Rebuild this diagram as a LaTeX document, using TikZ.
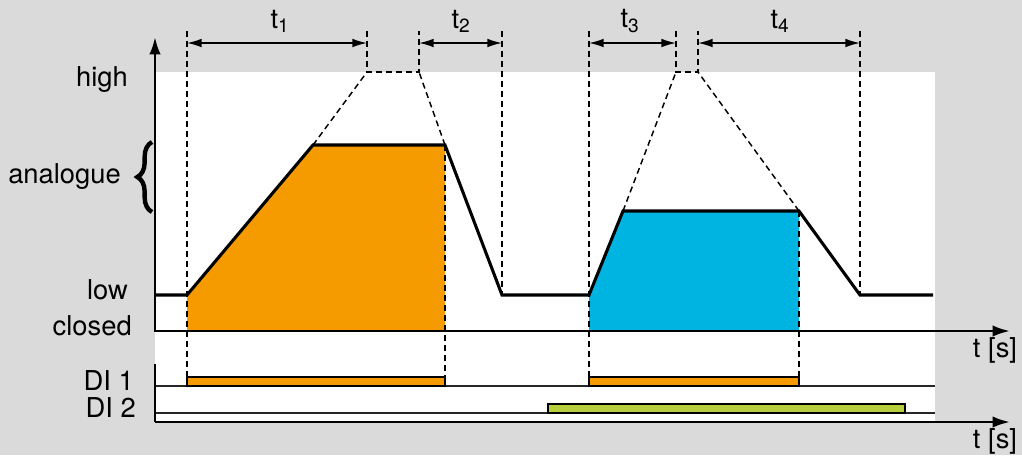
\documentclass[tikz,border=0pt]{standalone}
\usepackage{fontspec}
\setmainfont{TeX Gyre Heros}
\usetikzlibrary{arrows.meta,decorations.pathreplacing}
\definecolor{bggray}{RGB}{218,218,218}
\definecolor{orangefill}{RGB}{245,155,0}
\definecolor{bluefill}{RGB}{0,180,226}
\definecolor{greenfill}{RGB}{185,206,60}
\tikzset{
  lbl/.style={font=\fontsize{20.5}{23}\selectfont, inner sep=0pt},
  axis/.style={line width=1.9pt, -{Latex[length=13pt,width=8.5pt]}},
  signal/.style={line width=2.3pt, line join=miter},
  guide/.style={line width=1.1pt, dash pattern=on 4.5pt off 3pt},
  dimline/.style={line width=1.1pt, {Latex[length=11pt,width=6.5pt]}-{Latex[length=11pt,width=6.5pt]}},
  dibar/.style={draw=black, line width=1.5pt},
  thinline/.style={line width=0.9pt, draw=black!85}
}
\begin{document}
\begin{tikzpicture}[x=0.75pt,y=-0.75pt]
\fill[bggray] (0,0) rectangle (1022,455);
\useasboundingbox (0,0) rectangle (1022,455);
\fill[white] (155,72) rectangle (935,421);

% fills
\fill[orangefill] (187,331) -- (187,295) -- (313,145) -- (445,145) -- (445,331) -- cycle;
\fill[bluefill] (589,331) -- (589,295) -- (623,211) -- (799,211) -- (799,331) -- cycle;

% coordinates
\coordinate (o) at (155,331);
\coordinate (ytip) at (155,37);
\coordinate (xtip) at (1010,331);
\coordinate (o2) at (155,364);
\coordinate (o2c) at (155,422);
\coordinate (xtip2) at (1010,422);

\coordinate (a1) at (187,43);  \coordinate (a2) at (367,43);
\coordinate (a3) at (419,43);  \coordinate (a4) at (502,43);
\coordinate (a5) at (589,43);  \coordinate (a6) at (676,43);
\coordinate (a7) at (698,43);  \coordinate (a8) at (860,43);

\coordinate (p1) at (187,295); \coordinate (p2) at (313,145);
\coordinate (p3) at (445,145); \coordinate (p4) at (502,295);
\coordinate (p5) at (589,295); \coordinate (p6) at (623,211);
\coordinate (p7) at (799,211); \coordinate (p8) at (860,295);

\coordinate (h1) at (367,72); \coordinate (h2) at (419,72);
\coordinate (h3) at (676,72); \coordinate (h4) at (698,72);

% thin DI lines
\draw[thinline] (155,386) -- (935,386);
\draw[thinline] (155,413) -- (935,413);

% DI bars
\filldraw[dibar, fill=orangefill] (187,377) rectangle (445,386);
\filldraw[dibar, fill=orangefill] (589,377) rectangle (799,386);
\filldraw[dibar, fill=greenfill] (548,404) rectangle (905,413);

% dashed guides
\draw[guide] (187,31) -- (187,377);
\draw[guide] (367,31) -- (h1) -- (h2) -- (419,31);
\draw[guide] (p2) -- (h1);
\draw[guide] (p3) -- (h2);
\draw[guide] (p3) -- (445,377);
\draw[guide] (502,31) -- (p4);
\draw[guide] (589,31) -- (589,377);
\draw[guide] (676,31) -- (h3) -- (h4) -- (698,31);
\draw[guide] (p6) -- (h3);
\draw[guide] (p7) -- (h4);
\draw[guide] (p7) -- (799,377);
\draw[guide] (860,31) -- (p8);

% signal
\draw[signal] (155,295) -- (p1) -- (p2) -- (p3) -- (p4) -- (p5) -- (p6) -- (p7) -- (p8) -- (933,295);

% axes
\draw[axis] (o) -- (ytip);
\draw[axis, line cap=rect] (o) -- (xtip);
\draw[line width=1.9pt] (o2) -- (o2c);
\draw[axis] (o2c) -- (xtip2);

% dimension arrows
\draw[dimline] (a1) -- (a2);
\draw[dimline] (a3) -- (a4);
\draw[dimline] (a5) -- (a6);
\draw[dimline] (a7) -- (a8);

% brace
\draw[line width=3.3pt, decorate, decoration={brace, amplitude=11pt}] (152,212) -- (152,142);

% labels
\node[lbl] (t1) at (280,21) {t\textsubscript{1}};
\node[lbl] (t2) at (461,21) {t\textsubscript{2}};
\node[lbl] (t3) at (630,21) {t\textsubscript{3}};
\node[lbl] (t4) at (780,21) {t\textsubscript{4}};
\node[lbl, anchor=east] (high) at (128,80) {high};
\node[lbl, anchor=east] (analogue) at (121,177) {analogue};
\node[lbl, anchor=east] (low) at (128,290) {low};
\node[lbl, anchor=east] (closed) at (132,326) {closed};
\node[lbl, anchor=east] (di1) at (134,381) {DI 1};
\node[lbl, anchor=east] (di2) at (136,408) {DI 2};
\node[lbl] (ts1) at (995,350) {t [s]};
\node[lbl] (ts2) at (995,441) {t [s]};
\end{tikzpicture}
\end{document}
